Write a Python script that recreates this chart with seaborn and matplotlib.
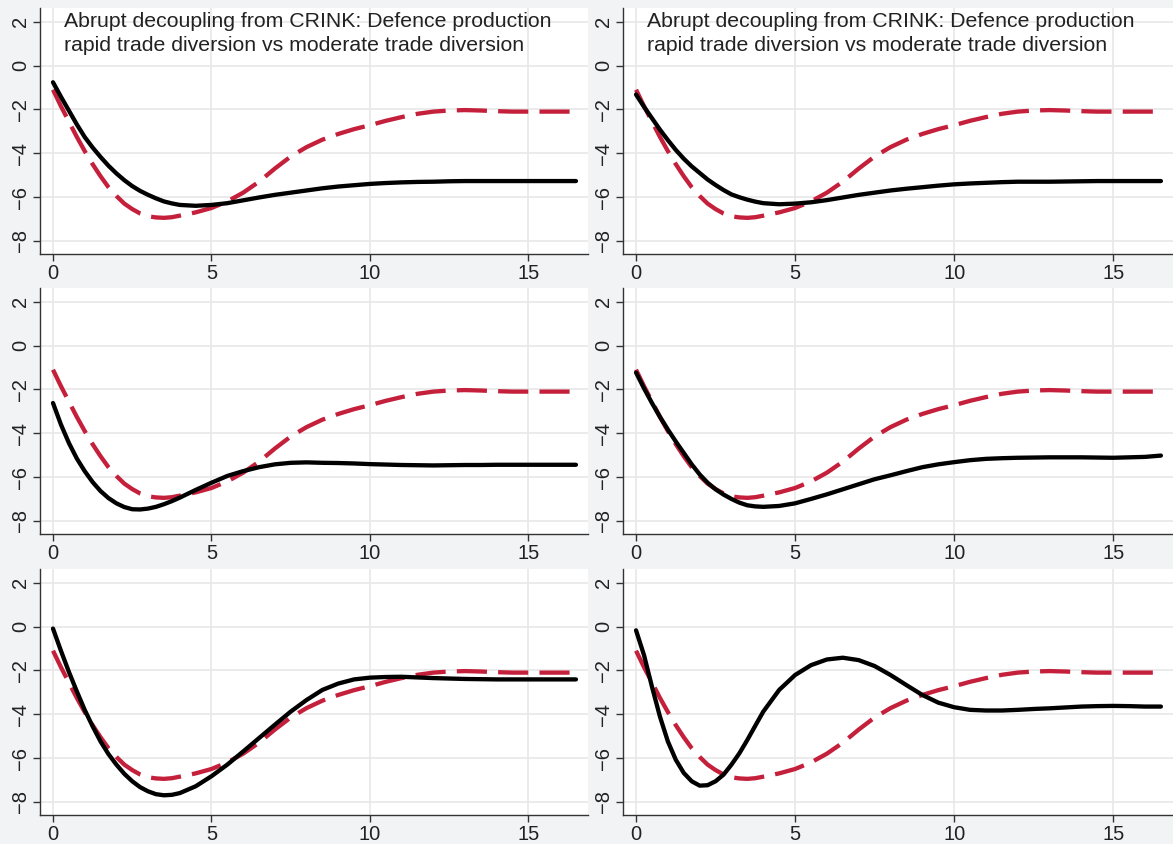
import matplotlib
matplotlib.use("Agg")
import matplotlib.pyplot as plt
import seaborn as sns
import pandas as pd

# horizon (quarters): quarter steps early on, half steps later
steps = [0, 0.25, 0.5, 0.75, 1, 1.25, 1.5, 1.75, 2, 2.25, 2.5, 2.75, 3,
         3.25, 3.5, 3.75, 4, 4.5, 5, 5.5, 6, 6.5, 7, 7.5, 8, 8.5, 9, 9.5, 10,
         10.5, 11, 11.5, 12, 12.5, 13, 13.5, 14, 14.5, 15, 15.5, 16, 16.5]

# moderate trade diversion (red dashed, same in every panel)
moderate = [-1.1, -1.85, -2.55, -3.25, -3.9, -4.5, -5.05, -5.55, -5.95, -6.3,
            -6.55, -6.75, -6.88, -6.93, -6.95, -6.92, -6.85, -6.7, -6.5, -6.2,
            -5.8, -5.3, -4.7, -4.15, -3.72, -3.38, -3.12, -2.9, -2.72, -2.52,
            -2.35, -2.2, -2.1, -2.05, -2.03, -2.05, -2.08, -2.1, -2.1, -2.1,
            -2.1, -2.1]

# rapid trade diversion (black solid), one series per panel
rapid_a = [-0.76, -1.42, -2.05, -2.68, -3.26, -3.74, -4.17, -4.57, -4.92,
           -5.23, -5.5, -5.72, -5.9, -6.06, -6.2, -6.29, -6.36, -6.4, -6.36,
           -6.28, -6.15, -6.02, -5.9, -5.8, -5.7, -5.6, -5.52, -5.46, -5.4,
           -5.36, -5.33, -5.31, -5.3, -5.28, -5.27, -5.27, -5.27, -5.27,
           -5.27, -5.27, -5.27, -5.27]
rapid_b = [-1.32, -1.88, -2.4, -2.92, -3.4, -3.85, -4.25, -4.6, -4.9, -5.2,
           -5.45, -5.68, -5.88, -6.01, -6.12, -6.21, -6.28, -6.33, -6.3,
           -6.24, -6.14, -6.02, -5.9, -5.8, -5.7, -5.62, -5.55, -5.48, -5.42,
           -5.38, -5.35, -5.32, -5.3, -5.3, -5.3, -5.29, -5.28, -5.27, -5.27,
           -5.27, -5.27, -5.27]
rapid_c = [-2.62, -3.6, -4.44, -5.15, -5.73, -6.23, -6.64, -6.96, -7.2,
           -7.37, -7.47, -7.48, -7.44, -7.36, -7.24, -7.1, -6.94, -6.59,
           -6.26, -5.95, -5.73, -5.55, -5.42, -5.35, -5.33, -5.35, -5.36,
           -5.38, -5.41, -5.43, -5.45, -5.46, -5.47, -5.46, -5.45, -5.45,
           -5.44, -5.44, -5.44, -5.44, -5.44, -5.44]
rapid_d = [-1.23, -1.95, -2.62, -3.25, -3.83, -4.38, -4.9, -5.42, -5.88,
           -6.26, -6.56, -6.8, -7.0, -7.17, -7.29, -7.34, -7.36, -7.32, -7.2,
           -7.0, -6.79, -6.56, -6.33, -6.1, -5.92, -5.73, -5.55, -5.42, -5.32,
           -5.23, -5.17, -5.14, -5.12, -5.11, -5.1, -5.1, -5.1, -5.11, -5.12,
           -5.1, -5.08, -5.02]
rapid_e = [-0.09, -1.1, -2.06, -2.95, -3.8, -4.55, -5.24, -5.82, -6.3, -6.72,
           -7.06, -7.33, -7.52, -7.65, -7.7, -7.68, -7.6, -7.29, -6.83, -6.3,
           -5.7, -5.09, -4.48, -3.88, -3.35, -2.89, -2.6, -2.41, -2.33, -2.3,
           -2.29, -2.32, -2.35, -2.37, -2.39, -2.4, -2.41, -2.41, -2.41, -2.41,
           -2.41, -2.41]
rapid_f = [-0.17, -1.3, -2.74, -4.1, -5.24, -6.08, -6.68, -7.06, -7.26, -7.24,
           -7.06, -6.76, -6.3, -5.78, -5.17, -4.52, -3.88, -2.89, -2.21, -1.76,
           -1.5, -1.42, -1.53, -1.8, -2.21, -2.67, -3.12, -3.47, -3.68, -3.8,
           -3.83, -3.83, -3.8, -3.76, -3.73, -3.69, -3.65, -3.63, -3.62, -3.63,
           -3.65, -3.65]

panel_title = ("Abrupt decoupling from CRINK: Defence production\n"
               "rapid trade diversion vs moderate trade diversion")
panels = [rapid_a, rapid_b, rapid_c, rapid_d, rapid_e, rapid_f]
titles = [panel_title, panel_title, None, None, None, None]

sns.set_style("whitegrid")
plt.rcParams['font.family'] = ['Liberation Sans', 'DejaVu Sans']

W, H = 1173, 844
bg = "#f2f3f5"
red = "#c4203c"
fig = plt.figure(figsize=(W / 100, H / 100), dpi=100, facecolor=bg)

# axes boxes in pixels: (left, right) and (top, bottom)
col_px = [(40, 588), (623, 1173)]
row_px = [(8, 254), (288, 534), (569, 815)]

for i, (black, ttl) in enumerate(zip(panels, titles)):
    r, c = divmod(i, 2)
    x0, x1 = col_px[c]
    y0, y1 = row_px[r]
    ax = fig.add_axes([x0 / W, 1 - y1 / H, (x1 - x0) / W, (y1 - y0) / H])
    ax.set_facecolor("white")
    df = pd.DataFrame({"step": steps, "moderate": moderate, "rapid": black})
    sns.lineplot(data=df, x="step", y="moderate", ax=ax, color=red, lw=3.1,
                 linestyle=(0, (7, 2.6)))
    sns.lineplot(data=df, x="step", y="rapid", ax=ax, color="black", lw=3.1)
    ax.set_xlim(-0.41, 16.88)
    ax.set_ylim(-8.6, 2.63)
    ax.set_xticks([0, 5, 10, 15])
    ax.set_yticks([-8, -6, -4, -2, 0, 2])
    ax.set_xlabel("")
    ax.set_ylabel("")
    ax.grid(True, color="#e8e8e8", lw=1.2)
    for s in ["top", "right"]:
        ax.spines[s].set_visible(False)
    for s in ["left", "bottom"]:
        ax.spines[s].set_color("#333333")
        ax.spines[s].set_linewidth(1.0)
    ax.tick_params(axis="both", direction="out", length=5, width=1.0,
                   color="#333333", labelsize=14.5, labelcolor="#222222", pad=2,
                   bottom=True, left=True)
    for lab in ax.get_yticklabels():
        lab.set_rotation(90)
        lab.set_va("center")
    if ttl:
        ax.text(0.043, 0.985, ttl, transform=ax.transAxes, ha="left", va="top",
                fontsize=15.3, color="#222222", linespacing=1.36)

fig.savefig("out.png", dpi=100, facecolor=bg)
